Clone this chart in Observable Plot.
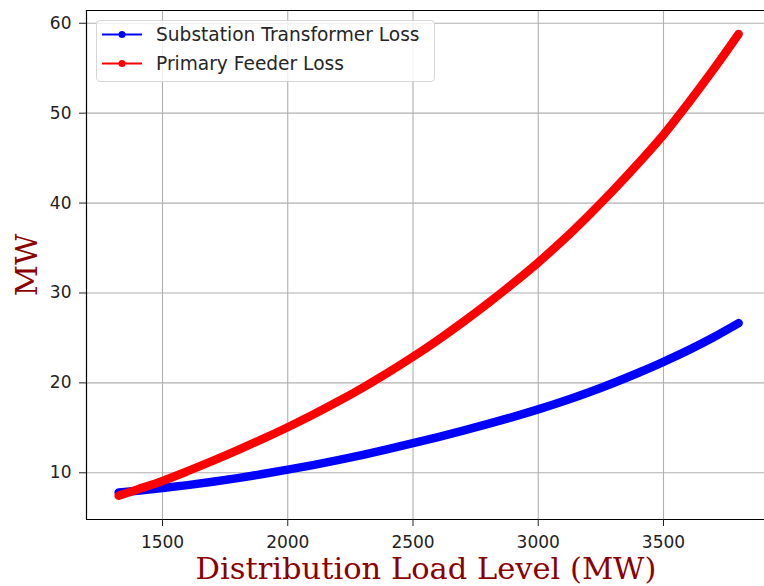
<!DOCTYPE html>
<html>
<head>
<meta charset="utf-8">
<script src="https://cdn.jsdelivr.net/npm/d3@7"></script>
<script src="https://cdn.jsdelivr.net/npm/@observablehq/plot@0.6"></script>
<style>
  body { margin: 0; background: #fff; }
  #wrap { position: relative; width: 764px; height: 586px; overflow: hidden; }
  #legend { position: absolute; left: 96px; top: 20px; width: 339px; height: 62px;
    border: 1px solid #d6d6d6; border-radius: 4px; background: rgba(255,255,255,0.8); box-sizing: border-box; }
</style>
</head>
<body>
<div id="wrap"></div>
<script>
// Distribution load level (MW)
const loadLevel = [1325,1400,1500,1600,1700,1800,1900,2000,2100,2200,2300,2400,2500,2600,2700,2800,2900,3000,3100,3200,3300,3400,3500,3600,3700,3800];
// Substation transformer loss (MW)
const substationLoss = [7.8,8.0,8.3,8.63,9.0,9.41,9.86,10.35,10.86,11.41,12.0,12.63,13.3,13.97,14.68,15.43,16.22,17.05,17.95,18.93,19.99,21.13,22.35,23.65,25.08,26.65];
// Primary feeder loss (MW)
const feederLoss = [7.45,8.15,9.1,10.18,11.32,12.52,13.77,15.07,16.45,17.92,19.48,21.14,22.9,24.78,26.77,28.87,31.08,33.4,35.9,38.6,41.44,44.44,47.6,51.15,54.88,58.8];
const xTicks = [1500,2000,2500,3000,3500];
const yTicks = [10,20,30,40,50,60];
const seriesNames = ["Substation Transformer Loss","Primary Feeder Loss"];
const seriesColors = ["blue","red"];

const xDomain = [1196.6, 3903.2];
const yDomain = [4.805, 61.42];

const subRows = loadLevel.map((x,i)=>({load:x, loss:substationLoss[i]}));
const feedRows = loadLevel.map((x,i)=>({load:x, loss:feederLoss[i]}));

const chart = Plot.plot({
  width: 764, height: 586,
  marginLeft: 86, marginRight: 0, marginTop: 10, marginBottom: 67,
  style: {fontFamily: "DejaVu Sans", background: "white", color: "#222", overflow: "visible"},
  x: {domain: xDomain},
  y: {domain: yDomain},
  marks: [
    Plot.gridX(xTicks, {stroke: "#b0b0b0", strokeOpacity: 1, strokeWidth: 1.1}),
    Plot.gridY(yTicks, {stroke: "#b0b0b0", strokeOpacity: 1, strokeWidth: 1.1}),
    Plot.ruleX([xDomain[0]], {stroke: "black", strokeWidth: 1.2}),
    Plot.ruleY([yDomain[0], yDomain[1]], {stroke: "black", strokeWidth: 1.2}),
    Plot.axisX({ticks: xTicks, tickFormat: d3.format("d"), tickSize: 7, tickPadding: 9, fontSize: 17, label: null, stroke: "#222"}),
    Plot.axisY({ticks: yTicks, tickFormat: d3.format("d"), tickSize: 7, tickPadding: 8, fontSize: 17, label: null, stroke: "#222"}),
    Plot.line(subRows, {x: "load", y: "loss", stroke: seriesColors[0], strokeWidth: 8.5, strokeLinecap: "round", strokeLinejoin: "round", curve: "monotone-x"}),
    Plot.line(feedRows, {x: "load", y: "loss", stroke: seriesColors[1], strokeWidth: 8.5, strokeLinecap: "round", strokeLinejoin: "round", curve: "monotone-x"})
  ]
});

const svg = d3.select(chart);
svg.append("text")
  .attr("x", 426).attr("y", 578.5)
  .attr("text-anchor", "middle")
  .attr("font-family", "DejaVu Serif")
  .attr("font-size", 30.5)
  .attr("fill", "darkred")
  .text("Distribution Load Level (MW)");
svg.append("text")
  .attr("transform", "translate(36.5,265) rotate(-90)")
  .attr("text-anchor", "middle")
  .attr("font-family", "DejaVu Serif")
  .attr("font-size", 30.5)
  .attr("fill", "darkred")
  .text("MW");

const wrap = document.getElementById("wrap");
wrap.appendChild(chart);

// Legend
const leg = document.createElement("div");
leg.id = "legend";
wrap.appendChild(leg);
const ls = d3.select(leg).append("svg").attr("width", 339).attr("height", 62)
  .style("position","absolute").style("left","-1px").style("top","-1px");
seriesNames.forEach((name, i) => {
  const cy = 14.5 + i * 29;
  ls.append("line").attr("x1", 6).attr("x2", 46).attr("y1", cy).attr("y2", cy)
    .attr("stroke", seriesColors[i]).attr("stroke-width", 2);
  ls.append("circle").attr("cx", 26).attr("cy", cy).attr("r", 3.5).attr("fill", seriesColors[i]);
  ls.append("text").attr("x", 60).attr("y", cy).attr("dy", "0.36em")
    .attr("font-family", "DejaVu Sans").attr("font-size", 18.6).attr("fill", "#262626")
    .text(name);
});
</script>
</body>
</html>
